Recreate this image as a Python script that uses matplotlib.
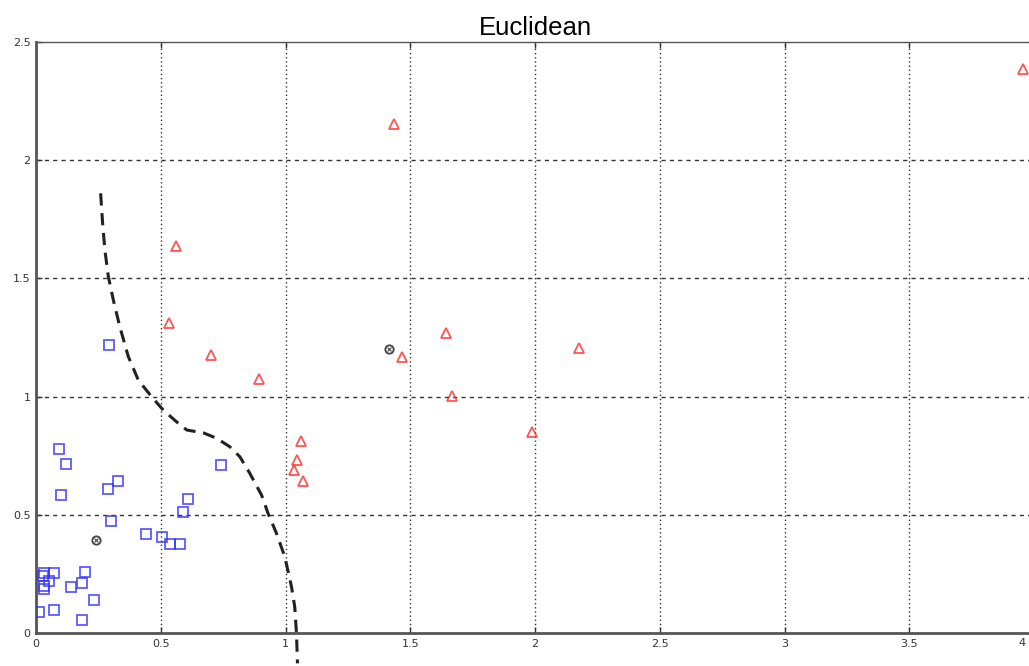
import matplotlib
matplotlib.use("Agg")
import matplotlib.pyplot as plt

# Class A (blue squares)
sq_x = [0.091, 0.119, 0.099, 0.287, 0.330, 0.299, 0.742, 0.610, 0.591, 0.439,
        0.507, 0.539, 0.578, 0.033, 0.072, 0.052, 0.030, 0.032, 0.034, 0.196,
        0.184, 0.140, 0.234, 0.073, 0.013, 0.184, 0.292]
sq_y = [0.777, 0.714, 0.586, 0.608, 0.642, 0.474, 0.710, 0.566, 0.514, 0.418,
        0.408, 0.377, 0.377, 0.253, 0.256, 0.221, 0.240, 0.199, 0.188, 0.260,
        0.211, 0.197, 0.141, 0.098, 0.089, 0.058, 1.219]

# Class B (red triangles)
tri_x = [3.957, 1.434, 0.563, 0.533, 0.702, 0.892, 1.643, 1.467, 2.175, 1.667,
         1.988, 1.063, 1.045, 1.035, 1.069]
tri_y = [2.383, 2.150, 1.636, 1.312, 1.177, 1.074, 1.267, 1.166, 1.204, 1.001,
         0.852, 0.811, 0.732, 0.690, 0.643]

# Class centres
ctr_x = [0.242, 1.415]
ctr_y = [0.396, 1.202]

# Decision boundary
bnd_x = [0.259, 0.267, 0.276, 0.290, 0.310, 0.336, 0.370, 0.410, 0.463, 0.510,
         0.563, 0.604, 0.673, 0.724, 0.777, 0.817, 0.857, 0.904, 0.930, 0.964,
         0.997, 1.024, 1.037, 1.044, 1.048]
bnd_y = [1.859, 1.732, 1.620, 1.507, 1.408, 1.295, 1.169, 1.070, 1.000, 0.943,
         0.894, 0.859, 0.846, 0.824, 0.788, 0.746, 0.676, 0.584, 0.507, 0.422,
         0.324, 0.197, 0.112, 0.000, -0.127]

xticks = [0, 0.5, 1, 1.5, 2, 2.5, 3, 3.5, 4]
xtick_labels = ["0", "0.5", "1", "1.5", "2", "2.5", "3", "3.5", "4"]
yticks = [0, 0.5, 1, 1.5, 2, 2.5]
ytick_labels = ["0", "0.5", "1", "1.5", "2", "2.5"]

fig = plt.figure(figsize=(10.29, 6.66), dpi=100)
ax = fig.add_axes([36 / 1029, 32.7 / 666, 998 / 1029, 591.7 / 666])
ax.set_xlim(0, 4)
ax.set_ylim(0, 2.5)

ax.set_xticks(xticks)
# the last x label lies past the figure edge, so it is drawn separately below
ax.set_xticklabels(xtick_labels[:-1] + [""])
ax.set_yticks(yticks)
ax.set_yticklabels(ytick_labels)
ax.tick_params(direction="in", length=4, width=1, colors="#333333",
               labelsize=8, top=True, right=True, pad=4)
ax.annotate(xtick_labels[-1], xy=(xticks[-1], 0), xycoords="data",
            xytext=(-8, -5), textcoords="offset pixels", ha="right", va="top",
            fontsize=8, color="#333333", annotation_clip=False)

for y in yticks[1:-1]:
    ax.axhline(y, color="#333333", lw=1, ls=(0, (3, 3)), zorder=1)
for x in xticks[1:-1]:
    ax.axvline(x, color="#333333", lw=1, ls=(0, (1, 2)), zorder=1)

for side in ("left", "bottom"):
    ax.spines[side].set_color("#555555")
    ax.spines[side].set_linewidth(2)
ax.spines["top"].set_color("#555555")
ax.spines["top"].set_linewidth(1)

ax.plot(sq_x, sq_y, ls="none", marker="s", ms=7, mfc="none", mec="#3333ff",
        mew=1.3, alpha=0.8, zorder=3)
ax.plot(tri_x, tri_y, ls="none", marker="^", ms=7.5, mfc="none", mec="#ff2b2b",
        mew=1.3, alpha=0.8, zorder=3, clip_on=False)
ax.plot(ctr_x, ctr_y, ls="none", marker="o", ms=6, mfc="none", mec="#444444",
        mew=1.3, zorder=3)
ax.plot(ctr_x, ctr_y, ls="none", marker="x", ms=3, mec="#444444", mew=0.8,
        zorder=3)
ax.plot(bnd_x, bnd_y, color="#222222", lw=2.2, ls=(0, (4, 2.5)), zorder=4,
        clip_on=False)

ax.set_title("Euclidean", fontsize=18.5, family="Liberation Sans", pad=5)

fig.savefig("out.png", dpi=100)
